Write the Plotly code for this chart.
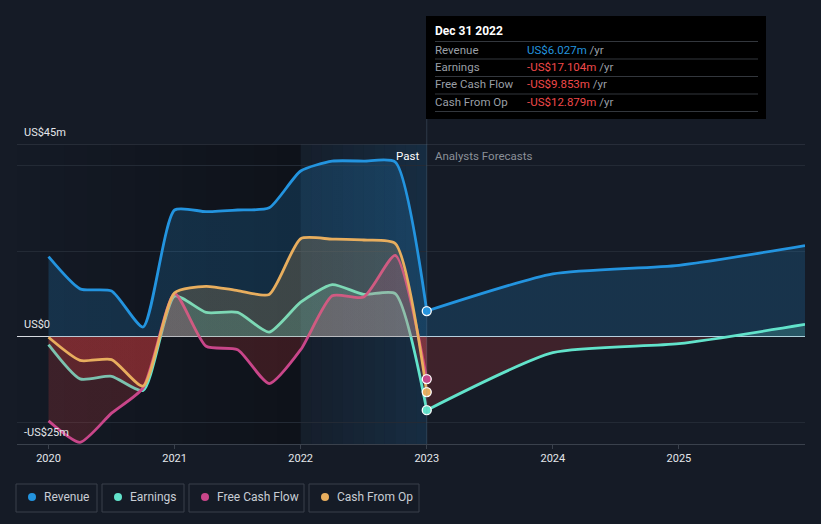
import plotly.graph_objects as go

# ---------------- data (US$ m) ----------------
past_x = [2020.0, 2020.25, 2020.5, 2020.75, 2021.0, 2021.25, 2021.5, 2021.75,
          2022.0, 2022.25, 2022.5, 2022.75, 2023.0]
revenue_past = [18.7, 11.2, 10.7, 2.3, 29.6, 29.2, 29.6, 30.1, 38.7, 41.0, 41.0, 40.8, 6.027]
earnings_past = [-1.8, -9.8, -9.2, -12.5, 9.5, 5.7, 5.7, 1.1, 8.1, 12.2, 9.9, 10.1, -17.104]
fcf_past = [-19.6, -24.6, -17.8, -11.9, 10.1, -2.2, -3.0, -10.9, -3.0, 9.6, 9.3, 19.0, -9.853]
cfo_past = [-0.1, -5.5, -5.3, -11.5, 10.3, 11.8, 10.8, 9.9, 22.9, 22.8, 22.6, 21.8, -12.879]

fc_x = [2023.0, 2024.0, 2025.0, 2026.0]
revenue_fc = [6.027, 14.7, 16.7, 21.3]
earnings_fc = [-17.104, -3.7, -1.6, 2.9]

year_ticks = [2020, 2021, 2022, 2023, 2024, 2025]
year_labels = ["2020", "2021", "2022", "2023", "2024", "2025"]

tooltip_date = "Dec 31 2022"
tooltip_rows = [("Revenue", "US$6.027m"), ("Earnings", "-US$17.104m"),
                ("Free Cash Flow", "-US$9.853m"), ("Cash From Op", "-US$12.879m")]
series_names = ["Revenue", "Earnings", "Free Cash Flow", "Cash From Op"]

# ---------------- styling ----------------
BG = "#151b26"
C_REV = "#2394df"
C_EARN = "#62e3cb"
C_FCF = "#c9468a"
C_CFO = "#e8ae5e"
NEG_FILL = "rgba(226,62,62,0.2)"
YMIN, YMAX = -25, 45
ML, MR, MT, MB = 17, 16, 144, 80
W, H = 821, 524
PW, PH = W - ML - MR, H - MT - MB


def px_x(X):
    return (X - ML) / PW


def px_y(Y):
    return (H - MB - Y) / PH


def rgba(hexc, a):
    h = hexc.lstrip("#")
    r, g, b = int(h[0:2], 16), int(h[2:4], 16), int(h[4:6], 16)
    return f"rgba({r},{g},{b},{a})"


def grad(color, a=0.2):
    z = (0 - YMIN) / (YMAX - YMIN)
    pos = rgba(color, a)
    return dict(type="vertical", start=YMIN, stop=YMAX,
                colorscale=[[0, NEG_FILL], [z, NEG_FILL], [z, pos], [1, pos]])


fig = go.Figure()

SM = 0.6


def add_series(x, y, color, width=2.8):
    fig.add_trace(go.Scatter(
        x=x, y=y, mode="lines", line=dict(color=color, width=width, shape="spline", smoothing=SM),
        fill="tozeroy", fillgradient=grad(color), hoverinfo="skip", showlegend=False))


add_series(past_x, revenue_past, C_REV)
add_series(fc_x, revenue_fc, C_REV)
add_series(past_x, earnings_past, C_EARN)
add_series(fc_x, earnings_fc, C_EARN)
add_series(past_x, fcf_past, C_FCF)
add_series(past_x, cfo_past, C_CFO)

# end-point markers
for yv, c in [(revenue_past[-1], C_REV), (fcf_past[-1], C_FCF),
              (cfo_past[-1], C_CFO), (earnings_past[-1], C_EARN)]:
    fig.add_trace(go.Scatter(x=[past_x[-1]], y=[yv], mode="markers",
                             marker=dict(size=9, color=c, line=dict(color="white", width=1.3)),
                             hoverinfo="skip", showlegend=False))

shapes = []
# background gradient bands (past)
n = 12
x_start, x_mid, x_end = 2019.75, 2022.0, 2023.0
for i in range(n):
    a0 = x_start + (x_mid - x_start) * i / n
    a1 = x_start + (x_mid - x_start) * (i + 1) / n
    shapes.append(dict(type="rect", xref="x", yref="paper", x0=a0, x1=a1, y0=0, y1=1,
                       fillcolor=f"rgba(0,0,0,{0.30 * (i + 1) / n:.3f})", line=dict(width=0),
                       layer="below"))
for i in range(n):
    a0 = x_mid + (x_end - x_mid) * i / n
    a1 = x_mid + (x_end - x_mid) * (i + 1) / n
    shapes.append(dict(type="rect", xref="x", yref="paper", x0=a0, x1=a1, y0=0, y1=1,
                       fillcolor=f"rgba(35,148,223,{0.02 + 0.13 * (i + 1) / n:.3f})",
                       line=dict(width=0), layer="below"))
# top border line
shapes.append(dict(type="line", xref="paper", yref="y", x0=0, x1=1, y0=YMAX, y1=YMAX,
                   line=dict(color="#3a414c", width=1)))
# hover vertical line
shapes.append(dict(type="line", xref="x", yref="paper", x0=2023.0, x1=2023.0, y0=0, y1=px_y(16),
                   line=dict(color="rgba(120,150,180,0.25)", width=1)))
# tooltip box
shapes.append(dict(type="rect", xref="paper", yref="paper", x0=px_x(426), x1=px_x(766),
                   y0=px_y(119), y1=px_y(16), fillcolor="#000000", line=dict(width=0)))
for sy in [41.5, 59, 76.5, 94, 111.5]:
    shapes.append(dict(type="line", xref="paper", yref="paper", x0=px_x(435), x1=px_x(758),
                       y0=px_y(sy), y1=px_y(sy), line=dict(color="#33373d", width=1)))

annotations = []
FONT = "Roboto, 'Open Sans', sans-serif"
annotations.append(dict(xref="paper", yref="paper", x=px_x(433), y=px_y(31),
                        text="<b>" + tooltip_date + "</b>",
                        showarrow=False, xanchor="left", yanchor="middle",
                        font=dict(family=FONT, size=12, color="#ffffff")))
row_y = [49.5, 66.8, 84.2, 101.5]
for (lab, val), ry in zip(tooltip_rows, row_y):
    vc = C_REV if not val.startswith("-") else "#f0494a"
    annotations.append(dict(xref="paper", yref="paper", x=px_x(433), y=px_y(ry), text=lab,
                            showarrow=False, xanchor="left", yanchor="middle",
                            font=dict(family=FONT, size=11.5, color="#9a9fa6")))
    annotations.append(dict(xref="paper", yref="paper", x=px_x(525), y=px_y(ry),
                            text=f"<span style='color:{vc}'>{val}</span> /yr",
                            showarrow=False, xanchor="left", yanchor="middle",
                            font=dict(family=FONT, size=11.5, color="#9a9fa6")))

# axis value labels
for val, txt in [(YMAX, "US$45m"), (0, "US$0"), (YMIN, "-US$25m")]:
    annotations.append(dict(xref="paper", yref="y", x=px_x(22), y=val, yshift=12, text=txt,
                            showarrow=False, xanchor="left", yanchor="middle",
                            font=dict(family=FONT, size=11, color="#e4e7eb")))

annotations.append(dict(xref="paper", yref="paper", x=px_x(421), y=px_y(156), text="Past",
                        showarrow=False, xanchor="right", yanchor="middle",
                        font=dict(family=FONT, size=11.5, color="#ffffff")))
annotations.append(dict(xref="paper", yref="paper", x=px_x(433), y=px_y(156), text="Analysts Forecasts",
                        showarrow=False, xanchor="left", yanchor="middle",
                        font=dict(family=FONT, size=11.5, color="#8b9098")))

# legend boxes
legend_boxes = [(16, 97), (102, 184), (189, 304), (309, 419)]
legend_colors = [C_REV, C_EARN, C_FCF, C_CFO]
for (bx0, bx1), name, c in zip(legend_boxes, series_names, legend_colors):
    shapes.append(dict(type="rect", xref="paper", yref="paper", x0=px_x(bx0), x1=px_x(bx1),
                       y0=px_y(512), y1=px_y(484), line=dict(color="#3a404a", width=1),
                       fillcolor="rgba(0,0,0,0)"))
    shapes.append(dict(type="circle", xref="paper", yref="paper", xsizemode="pixel",
                       ysizemode="pixel", xanchor=px_x(bx0 + 16), yanchor=px_y(497),
                       x0=-4, x1=4, y0=-4, y1=4, fillcolor=c, line=dict(width=0)))
    annotations.append(dict(xref="paper", yref="paper", x=px_x(bx0 + 26), y=px_y(497), text=name,
                            showarrow=False, xanchor="left", yanchor="middle",
                            font=dict(family=FONT, size=12, color="#c8cdd4")))

fig.update_layout(
    width=W, height=H, margin=dict(l=ML, r=MR, t=MT, b=MB),
    paper_bgcolor=BG, plot_bgcolor=BG, hovermode=False, showlegend=False,
    shapes=shapes, annotations=annotations,
    xaxis=dict(range=[2019.75, 2026.0], tickvals=year_ticks, ticktext=year_labels,
               showgrid=False, zeroline=False, showline=True, linecolor="#3a414c", linewidth=1,
               ticks="outside", ticklen=4, tickcolor="#3a414c",
               tickfont=dict(family=FONT, size=11, color="#e4e7eb"), fixedrange=True),
    yaxis=dict(range=[YMIN, YMAX], tick0=0, dtick=20, showgrid=True, gridcolor="#232a35",
               gridwidth=1, showticklabels=False, zeroline=True, zerolinecolor="#d6dae0",
               zerolinewidth=1, fixedrange=True),
)

fig.write_html("out.html", config={"displayModeBar": False})
